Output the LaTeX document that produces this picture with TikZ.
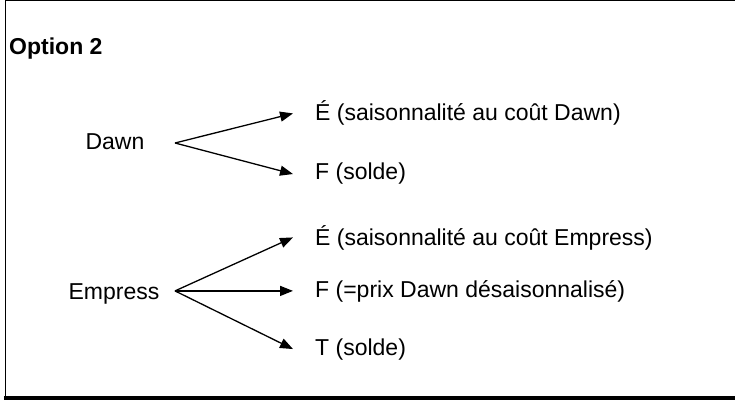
\documentclass[tikz,border=0pt]{standalone}
\usepackage{fontspec}
\setmainfont{Liberation Sans}
\usetikzlibrary{arrows.meta}
\begin{document}
\begin{tikzpicture}[x=1pt, y=-1pt, >={Triangle[length=13pt,width=10pt]},
    font=\fontsize{23}{27}\selectfont,
    source/.style={anchor=base, inner sep=0pt},
    target/.style={anchor=base west, inner xsep=22pt, inner ysep=0pt},
    branch/.style={->, line width=1.3pt}]
            \useasboundingbox (0,0) rectangle (735,403);

            % Frame (open on the right)
            \draw[line width=1pt] (735,0.5) -- (5,0.5) -- (5,398);
            \draw[line width=4pt] (4,398) -- (735,398);

            % Title
            \node[anchor=base west, inner sep=0pt, font=\fontsize{23}{27}\selectfont\bfseries] (title) at (9,55) {Option 2};

            % Dawn branches
            \node[source] (dawn) at (115,150) {Dawn};
            \coordinate (dawnfork) at (175,143);
            \node[target] (dawnE) at (293,121) {É (saisonnalité au coût Dawn)};
            \node[target] (dawnF) at (293,180) {F (solde)};
            \draw[branch] (dawnfork) -- (dawnE.west);
            \draw[branch] (dawnfork) -- (dawnF.west);

            % Empress branches
            \node[source] (empress) at (114,299) {Empress};
            \node[target] (empressE) at (293,245) {É (saisonnalité au coût Empress)};
            \node[target] (empressF) at (293,297) {F (=prix Dawn désaisonnalisé)};
            \node[target] (empressT) at (293,355) {T (solde)};
            \coordinate (empressfork) at (empressF.west -| dawnfork);
            \draw[branch] (empressfork) -- (empressE.west);
            \draw[branch] (empressfork) -- (empressF.west);
            \draw[branch] (empressfork) -- (empressT.west);
\end{tikzpicture}
\end{document}
